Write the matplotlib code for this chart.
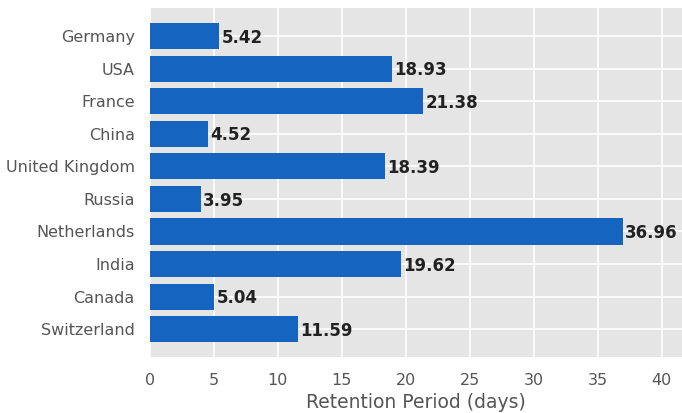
import matplotlib
matplotlib.use("Agg")
import matplotlib.pyplot as plt

countries = ["Germany", "USA", "France", "China", "United Kingdom",
             "Russia", "Netherlands", "India", "Canada", "Switzerland"]
retention_days = [5.42, 18.93, 21.38, 4.52, 18.39, 3.95, 36.96, 19.62, 5.04, 11.59]
x_ticks = [0, 5, 10, 15, 20, 25, 30, 35, 40]

plt.style.use("ggplot")
plt.rcParams["font.family"] = ["DejaVu Sans"]
fig = plt.figure(figsize=(6.82, 4.13), dpi=100)
ax = fig.add_axes([0.22, 0.136, 0.78, 0.845])

pos = list(range(len(countries)))
ax.barh(pos, retention_days, height=0.8, color="#1565C0", zorder=3)
for y, v in zip(pos, retention_days):
    ax.text(v + 0.15, y + 0.05, f"{v:.2f}", va="center", ha="left",
            fontsize=12, fontweight="bold", color="#222222", zorder=4)

ax.set_yticks(pos)
ax.set_yticklabels(countries)
ax.set_xticks(x_ticks)
ax.set_xlim(0, 41.6)
ax.set_ylim(9.85, -0.87)
ax.tick_params(axis="y", length=0, labelsize=11.5, colors="#555555", pad=11)
ax.tick_params(axis="x", length=0, labelsize=11.5, colors="#555555", pad=12)
ax.set_xlabel("Retention Period (days)", fontsize=13.5, color="#555555", labelpad=3)
ax.grid(True, color="white", linewidth=1.2, zorder=0)
ax.set_axisbelow(True)
ax.set_facecolor("#E5E5E5")
for s in ax.spines.values():
    s.set_visible(False)

fig.savefig("out.png", dpi=100)
